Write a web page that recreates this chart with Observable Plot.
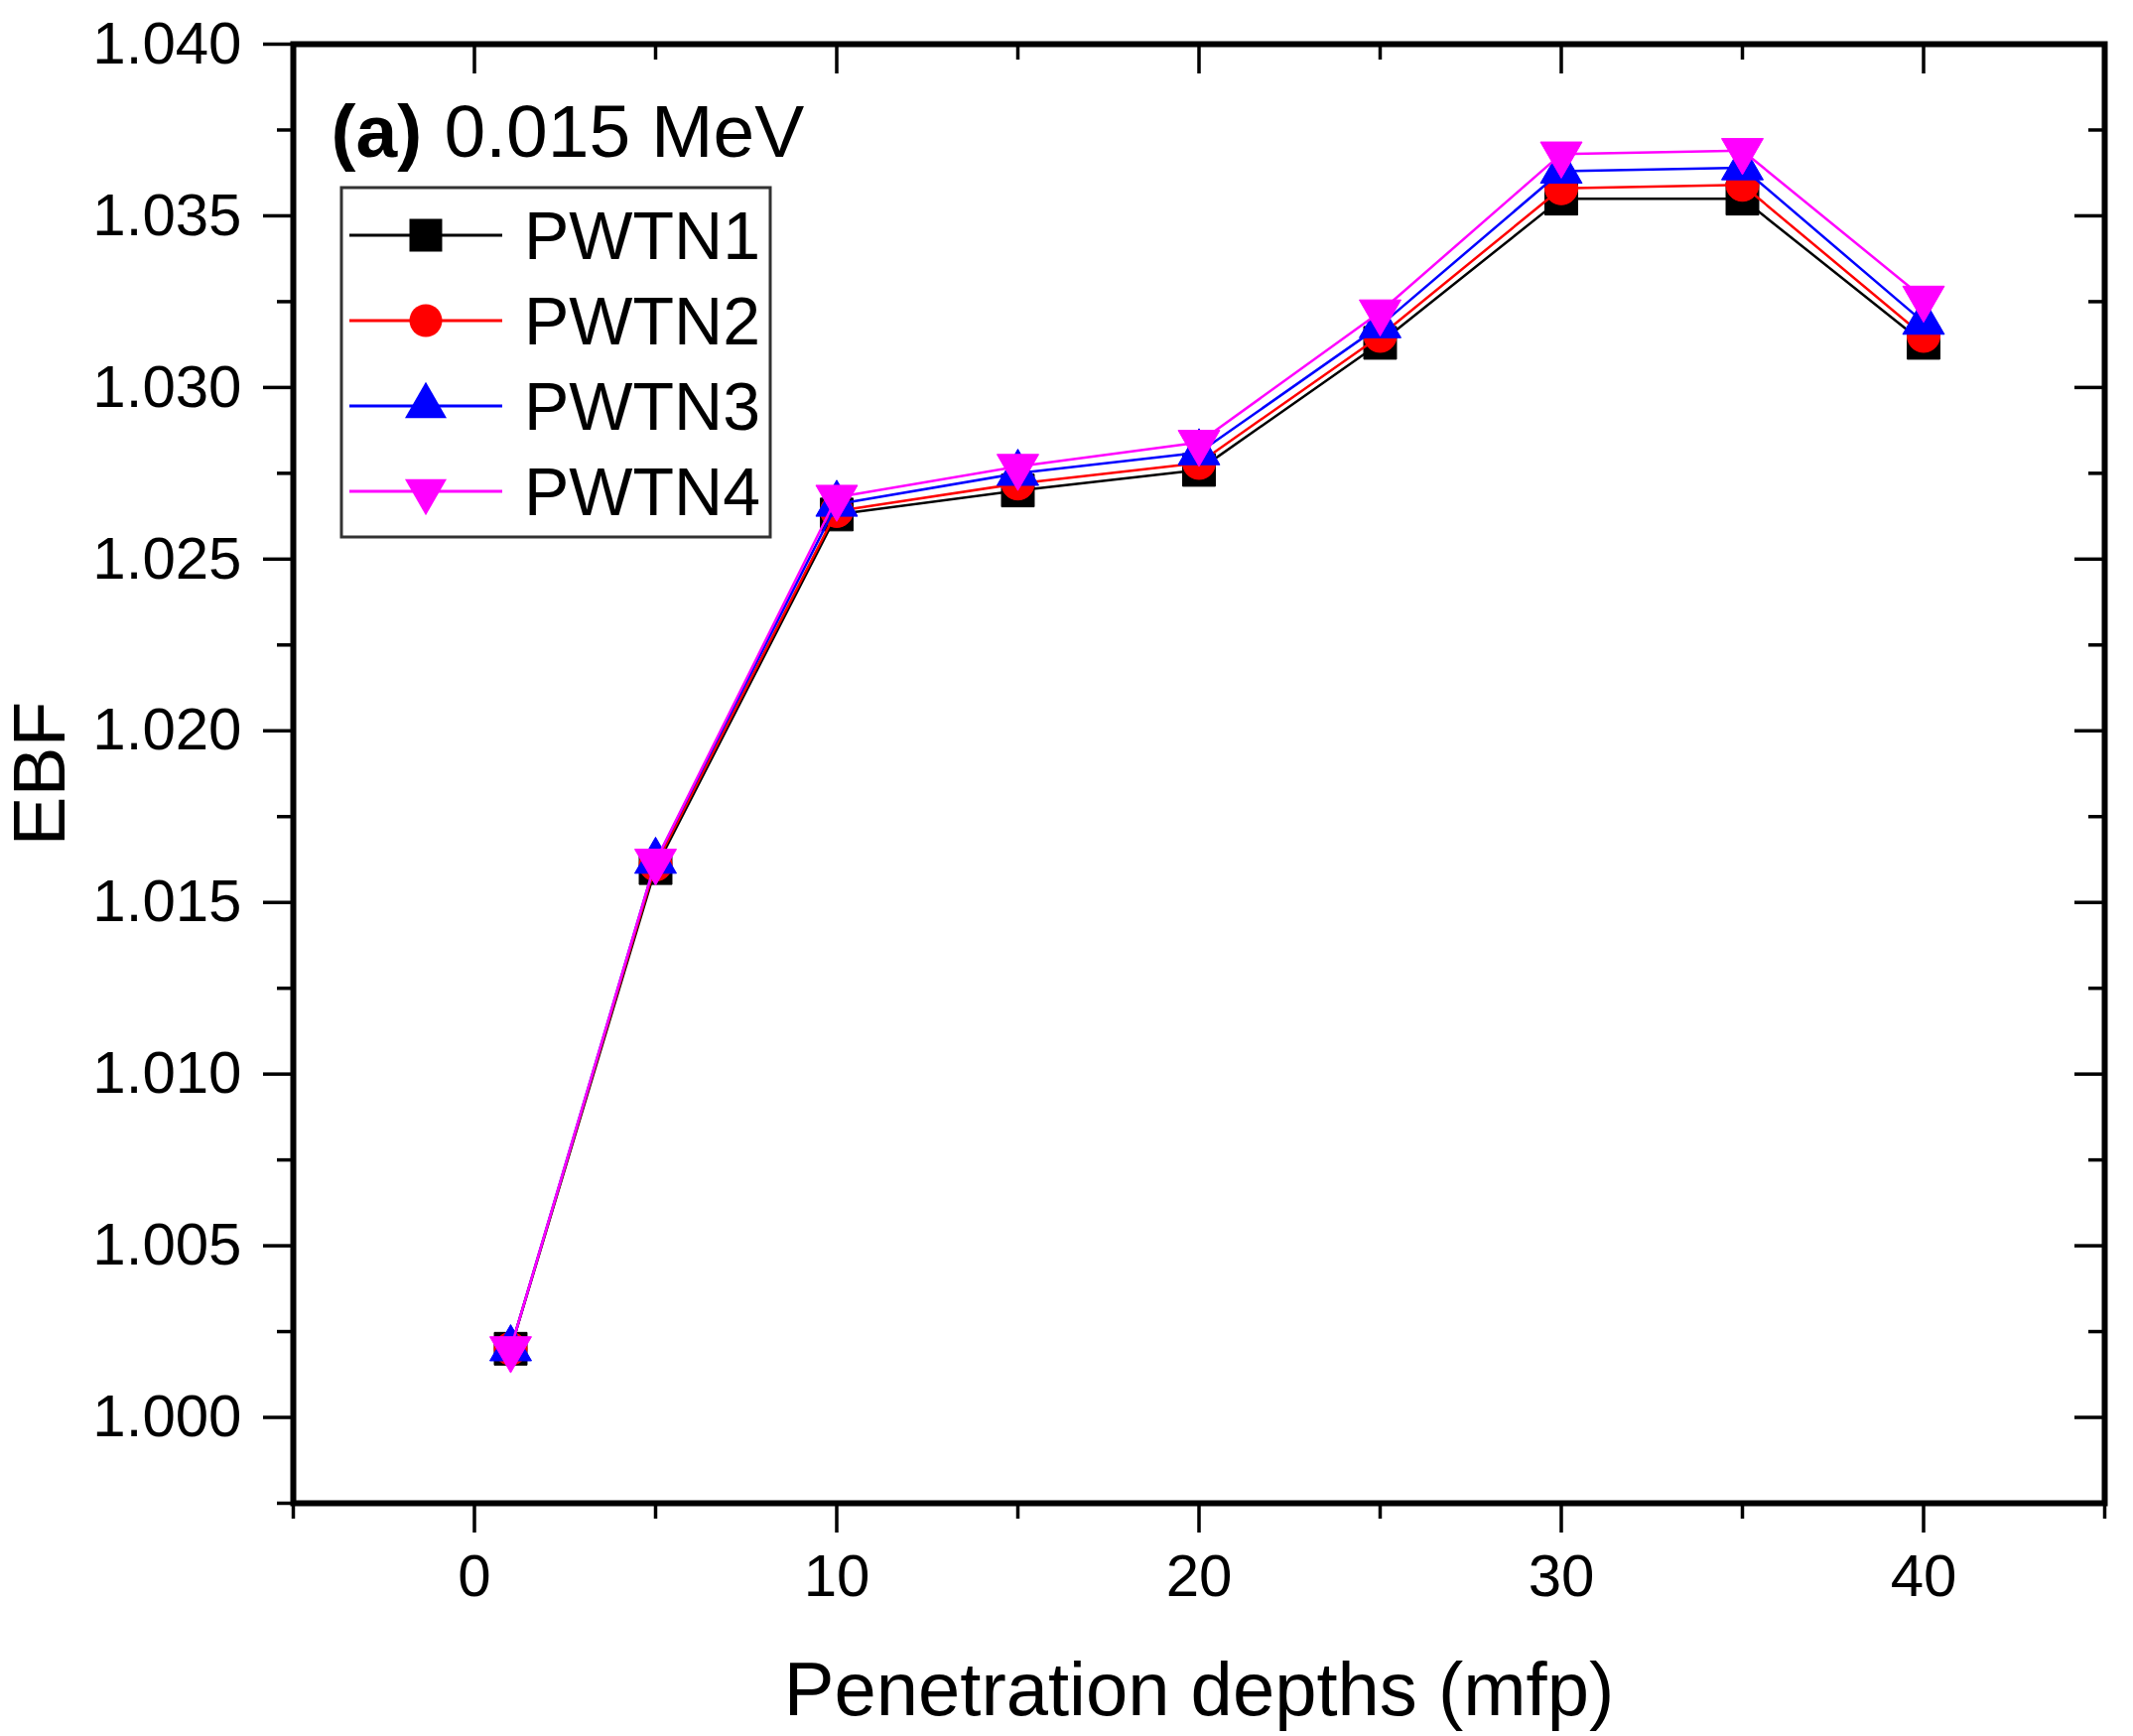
<!DOCTYPE html>
<html>
<head>
<meta charset="utf-8">
<script src="https://cdn.jsdelivr.net/npm/d3@7"></script>
<script src="https://cdn.jsdelivr.net/npm/@observablehq/plot@0.6"></script>
<style>
  body { margin: 0; background: white; }
  #chart svg { display: block; }
</style>
</head>
<body>
<div id="chart"></div>
<script>
// penetration depth (mfp) and EBF for each sample
const depth = [1, 5, 10, 15, 20, 25, 30, 35, 40];
const pwtn1 = [1.0020, 1.0160, 1.0263, 1.0270, 1.0276, 1.0313, 1.0355, 1.0355, 1.0313];
const pwtn2 = [1.0020, 1.0161, 1.0264, 1.0272, 1.0278, 1.0315, 1.0358, 1.0359, 1.0315];
const pwtn3 = [1.0020, 1.0162, 1.0266, 1.0275, 1.0281, 1.0318, 1.0363, 1.0364, 1.0319];
const pwtn4 = [1.0020, 1.0162, 1.0268, 1.0277, 1.0284, 1.0322, 1.0368, 1.0369, 1.0326];

const names = ["PWTN1", "PWTN2", "PWTN3", "PWTN4"];
const colors = ["#000000", "#ff0000", "#0000ff", "#ff00ff"];

const xTicks = [0, 10, 20, 30, 40];
const xMinor = [-5, 5, 15, 25, 35, 45];
const yTicks = [1.000, 1.005, 1.010, 1.015, 1.020, 1.025, 1.030, 1.035, 1.040];
const yMinor = [0.9975, 1.0025, 1.0075, 1.0125, 1.0175, 1.0225, 1.0275, 1.0325, 1.0375];

// downward triangle (d3.symbolTriangle flipped)
const triangleDown = {
  draw(context, size) {
    const y = -Math.sqrt(size / (Math.sqrt(3) * 3));
    context.moveTo(0, -y * 2);
    context.lineTo(-Math.sqrt(3) * y, y);
    context.lineTo(Math.sqrt(3) * y, y);
    context.closePath();
  }
};
const symbols = [d3.symbolSquare, d3.symbolCircle, d3.symbolTriangle, triangleDown];
const radii = [18.6, 16.5, 15.6, 15.6];

const values = [pwtn1, pwtn2, pwtn3, pwtn4];
const data = values.flatMap((v, s) => depth.map((d, i) => ({series: s, depth: d, ebf: v[i]})));

const seriesMarks = names.flatMap((name, s) => {
  const rows = data.filter(d => d.series === s);
  return [
    Plot.line(rows, {x: "depth", y: "ebf", stroke: colors[s], strokeWidth: 2.5}),
    Plot.dot(rows, {x: "depth", y: "ebf", symbol: symbols[s], r: radii[s], fill: colors[s], stroke: colors[s], strokeWidth: 1})
  ];
});

const tickStroke = 3.5;
const font = 60;

const chart = Plot.plot({
  width: 2149,
  height: 1749,
  marginLeft: 295,
  marginRight: 29,
  marginTop: 44,
  marginBottom: 235,
  style: {fontFamily: "'Liberation Sans', Arial, sans-serif", color: "black", background: "white"},
  x: {domain: [-5, 45]},
  y: {domain: [0.9975, 1.040]},
  marks: [
    // bottom and top x ticks
    Plot.axisX(xTicks, {anchor: "bottom", tickSize: 30, tickPadding: 21, fontSize: font, label: null, strokeWidth: tickStroke}),
    Plot.axisX(xMinor, {anchor: "bottom", tickSize: 16, fill: "none", label: null, strokeWidth: tickStroke}),
    Plot.axisX(xTicks, {anchor: "bottom", frameAnchor: "top", tickSize: 30, fill: "none", label: null, strokeWidth: tickStroke}),
    Plot.axisX(xMinor, {anchor: "bottom", frameAnchor: "top", tickSize: 16, fill: "none", label: null, strokeWidth: tickStroke}),
    // left and right y ticks
    Plot.axisY(yTicks, {anchor: "left", tickSize: 30, tickPadding: 22, tickFormat: d3.format(".3f"), fontSize: font, label: null, strokeWidth: tickStroke}),
    Plot.axisY(yMinor, {anchor: "left", tickSize: 16, fill: "none", label: null, strokeWidth: tickStroke}),
    Plot.axisY(yTicks, {anchor: "left", frameAnchor: "right", tickSize: 30, fill: "none", label: null, strokeWidth: tickStroke}),
    Plot.axisY(yMinor, {anchor: "left", frameAnchor: "right", tickSize: 16, fill: "none", label: null, strokeWidth: tickStroke}),
    Plot.frame({stroke: "black", strokeWidth: 6}),
    ...seriesMarks,
    Plot.text(["Penetration depths (mfp)"], {frameAnchor: "bottom", lineAnchor: "middle", dy: 189, fontSize: 76}),
    Plot.text(["EBF"], {frameAnchor: "left", lineAnchor: "middle", textAnchor: "middle", dx: -255, rotate: -90, fontSize: 75}),
    Plot.text(["(a)"], {frameAnchor: "top-left", lineAnchor: "middle", dx: 38, dy: 89, textAnchor: "start", fontWeight: "bold", fontSize: 75}),
    Plot.text(["0.015 MeV"], {frameAnchor: "top-left", lineAnchor: "middle", dx: 152, dy: 89, textAnchor: "start", fontSize: 75})
  ]
});

// legend box, drawn on top of the plot
const svg = d3.select(chart);
const legend = svg.append("g")
  .attr("font-family", "'Liberation Sans', Arial, sans-serif")
  .attr("text-anchor", "start");
legend.append("rect")
  .attr("x", 344).attr("y", 189).attr("width", 432).attr("height", 352)
  .attr("fill", "white").attr("stroke", "#333").attr("stroke-width", 3);
names.forEach((name, s) => {
  const cy = 237 + s * 86;
  legend.append("line")
    .attr("x1", 352).attr("x2", 506).attr("y1", cy).attr("y2", cy)
    .attr("stroke", colors[s]).attr("stroke-width", 3);
  legend.append("path")
    .attr("transform", `translate(429,${cy})`)
    .attr("d", d3.symbol(symbols[s], Math.PI * radii[s] * radii[s])())
    .attr("fill", colors[s]);
  legend.append("text")
    .attr("x", 528).attr("y", cy).attr("dy", "0.36em")
    .attr("text-anchor", "start")
    .attr("font-size", 68).attr("fill", "black")
    .text(name);
});

d3.select("#chart").append(() => chart);
</script>
</body>
</html>
